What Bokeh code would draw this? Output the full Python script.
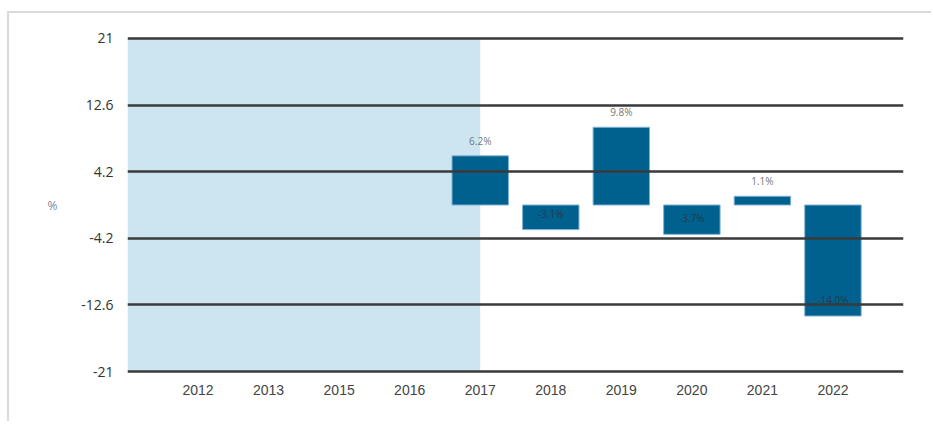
from bokeh.plotting import figure
from bokeh.models import ColumnDataSource, FixedTicker, CustomJSTickFormatter, LinearAxis, Range1d
from bokeh.embed import file_html
from bokeh.resources import INLINE
from bokeh.core.properties import value

years = ["2012", "2013", "2015", "2016", "2017", "2018", "2019", "2020", "2021", "2022"]
returns = [None, None, None, None, 6.2, -3.1, 9.8, -3.7, 1.1, -14.0]
y_ticks = [-21, -12.6, -4.2, 4.2, 12.6, 21]
y_unit = "%"
shade_until = "2017"

xs = list(range(1, len(years) + 1))
bx, bv, lab = [], [], []
for x, v in zip(xs, returns):
    if v is not None:
        bx.append(x)
        bv.append(v)
        lab.append(f"{v:.1f}%")

pos = ColumnDataSource(dict(x=[x for x, v in zip(bx, bv) if v >= 0],
                            v=[v for v in bv if v >= 0],
                            t=[t for t, v in zip(lab, bv) if v >= 0]))
neg = ColumnDataSource(dict(x=[x for x, v in zip(bx, bv) if v < 0],
                            v=[v for v in bv if v < 0],
                            t=[t for t, v in zip(lab, bv) if v < 0]))
bars = ColumnDataSource(dict(x=bx, v=bv))

p = figure(width=924, height=410, output_backend="svg", toolbar_location=None,
           x_range=Range1d(0, len(years) + 1), y_range=Range1d(-21.5, 21.5),
           min_border_left=118, min_border_right=30, min_border_top=21, min_border_bottom=48)
p.styles = {"border-top": "2px solid #dadada", "border-left": "2px solid #dadada",
            "margin-top": "11px", "margin-left": "7px"}
p.outline_line_color = None
p.background_fill_color = "white"
p.border_fill_color = "white"

# shaded region
p.quad(left=[0], right=[years.index(shade_until) + 1], bottom=[min(y_ticks)], top=[max(y_ticks)],
       fill_color="#cde4f1", line_color=None, level="underlay")

p.vbar(x="x", top="v", bottom=0, width=0.8, source=bars,
       fill_color="#00618f", line_color="#7fb2d3", line_width=1)

p.text(x="x", y="v", text="t", source=pos, text_align="center", text_baseline="bottom",
       y_offset=-8, text_font_size="10px", text_color="#777777", text_font=value("Open Sans"))
p.text(x="x", y="v", text="t", source=neg, text_align="center", text_baseline="middle",
       y_offset=-16, text_font_size="10px", text_color="#26394b", text_font=value("Open Sans"))

p.xgrid.visible = False
p.ygrid.ticker = FixedTicker(ticks=y_ticks)
p.ygrid.grid_line_color = "#3a3a3a"
p.ygrid.grid_line_width = 2.5
p.ygrid.level = "glyph"

p.yaxis.ticker = FixedTicker(ticks=y_ticks)
p.yaxis.formatter = CustomJSTickFormatter(code="return String(Math.round(tick*10)/10)")
p.yaxis.axis_line_color = None
p.yaxis.major_tick_line_color = None
p.yaxis.minor_tick_line_color = None
p.yaxis.major_tick_out = 0
p.yaxis.major_label_text_font = "Open Sans"
p.yaxis.major_label_text_font_size = "14px"
p.yaxis.major_label_text_color = "#333333"
p.yaxis.major_label_standoff = 14

# unit label as an extra left axis with a single tick at 0
unit_axis = LinearAxis(ticker=FixedTicker(ticks=[0]), major_label_overrides={0: y_unit},
                       axis_line_color=None, major_tick_line_color=None, minor_tick_line_color=None,
                       major_tick_out=0, major_label_standoff=21,
                       major_label_text_font="Open Sans", major_label_text_font_size="12px",
                       major_label_text_color="#7a8a99")
p.add_layout(unit_axis, "left")

p.xaxis.ticker = FixedTicker(ticks=xs)
p.xaxis.major_label_overrides = {x: y for x, y in zip(xs, years)}
p.xaxis.axis_line_color = None
p.xaxis.major_tick_line_color = None
p.xaxis.minor_tick_line_color = None
p.xaxis.major_tick_out = 0
p.xaxis.major_label_text_font = "Liberation Sans"
p.xaxis.major_label_text_font_size = "14px"
p.xaxis.major_label_text_color = "#444444"
p.xaxis.major_label_standoff = 9

open("out.html", "w").write(file_html(p, INLINE))
